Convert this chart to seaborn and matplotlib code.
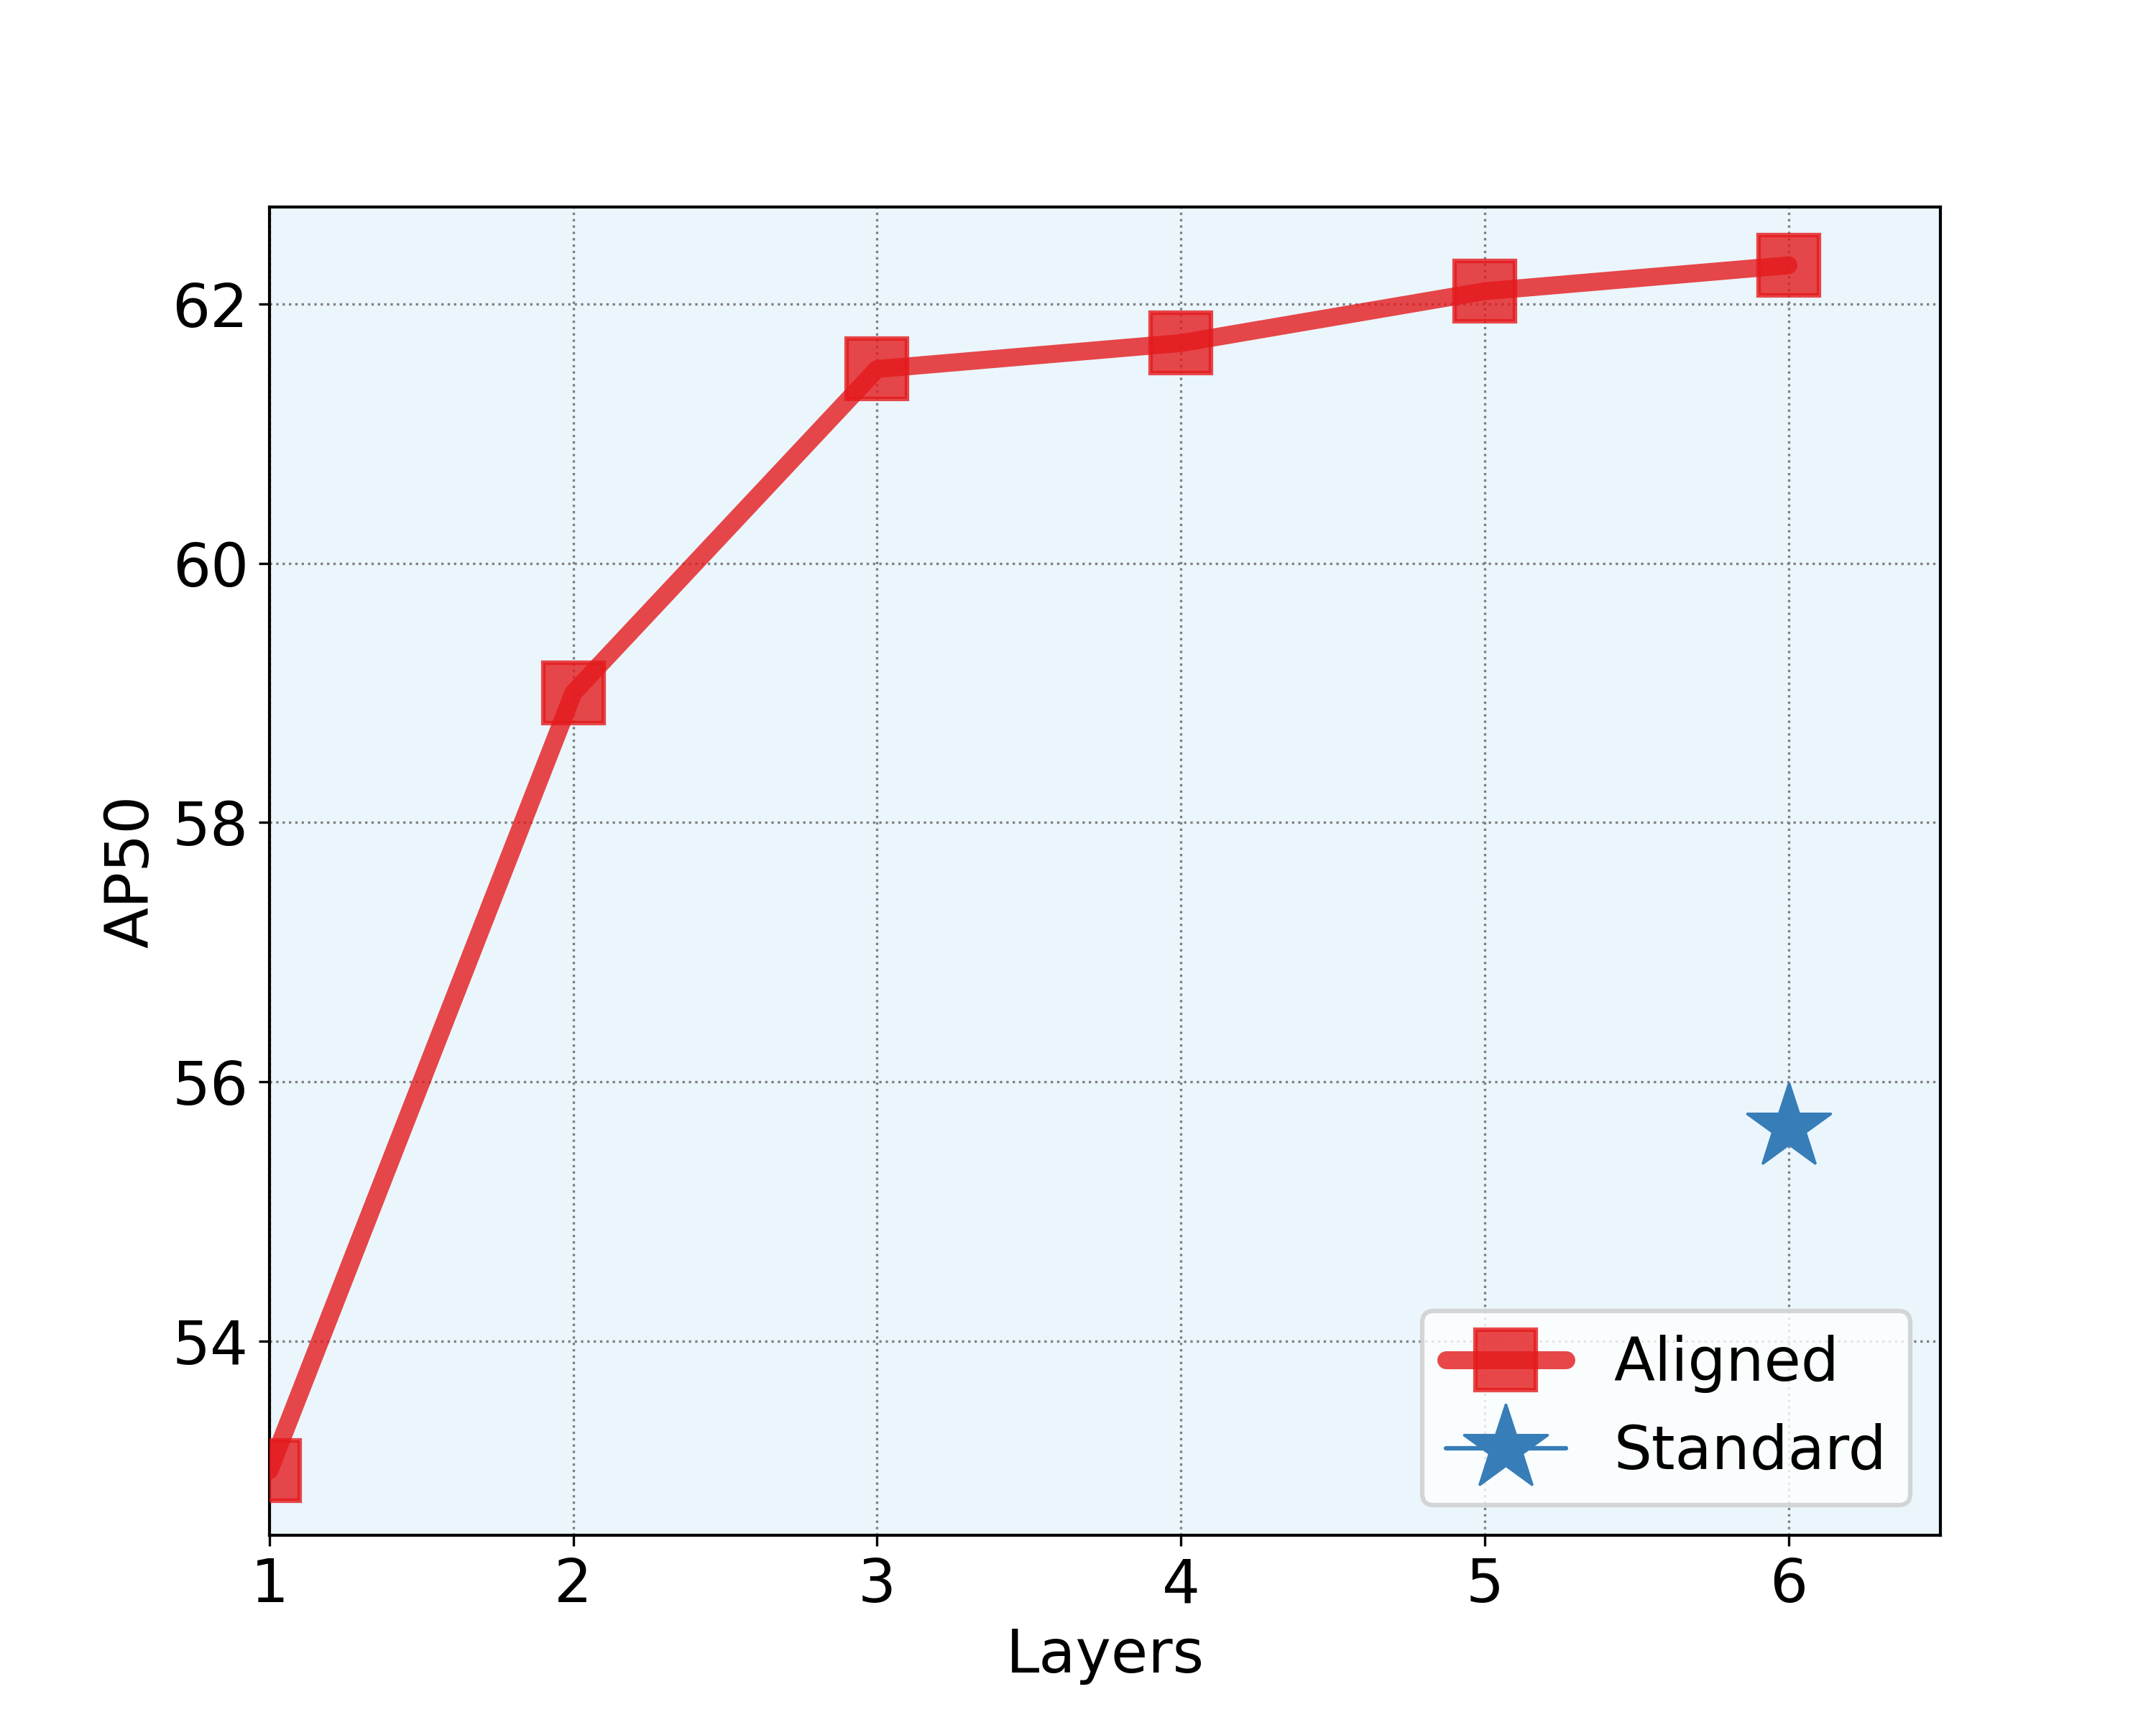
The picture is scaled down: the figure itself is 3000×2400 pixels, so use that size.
import matplotlib
matplotlib.use("Agg")
import matplotlib.pyplot as plt
import seaborn as sns
import pandas as pd

layers = [1, 2, 3, 4, 5, 6]
aligned_ap50 = [53.0, 59.0, 61.5, 61.7, 62.1, 62.3]
standard_layers = [6]
standard_ap50 = [55.65]

sns.set_style("ticks", rc={
    'text.color': 'black', 'axes.labelcolor': 'black',
    'xtick.color': 'black', 'ytick.color': 'black',
    'axes.edgecolor': 'black',
})
plt.rcParams['font.family'] = ['DejaVu Sans']
plt.rcParams['xtick.major.size'] = 3.5
plt.rcParams['ytick.major.size'] = 3.5
plt.rcParams['xtick.major.pad'] = 3.5
plt.rcParams['ytick.major.pad'] = 3.5
plt.rcParams['xtick.major.width'] = 0.8
plt.rcParams['ytick.major.width'] = 0.8

fig, ax = plt.subplots(figsize=(10, 8), dpi=300)
ax.set_facecolor('#EBF6FC')

df_a = pd.DataFrame({"Layers": layers, "AP50": aligned_ap50})
df_s = pd.DataFrame({"Layers": standard_layers, "AP50": standard_ap50})

sns.lineplot(data=df_a, x="Layers", y="AP50", ax=ax, color='#e41a1c', alpha=0.8,
             linewidth=6, marker='s', markersize=20, markeredgecolor='#e41a1c',
             markeredgewidth=1.5, label='Aligned', zorder=3)
sns.lineplot(data=df_s, x="Layers", y="AP50", ax=ax, color='#377eb8',
             linewidth=1.5, marker='*', markersize=30, markeredgecolor='#377eb8',
             label='Standard', zorder=3)

ax.set_xlim(1, 6.5)
ax.set_ylim(52.5, 62.75)
ax.set_xticks([1, 2, 3, 4, 5, 6])
ax.set_yticks([54, 56, 58, 60, 62])
ax.grid(True, linestyle=':', color='gray', linewidth=0.8)
ax.set_axisbelow(True)
ax.tick_params(axis='both', labelsize=20)
for s in ax.spines.values():
    s.set_color('black')
    s.set_linewidth(1.0)
ax.set_xlabel('Layers', fontsize=20)
ax.set_ylabel('AP50', fontsize=20)

leg = ax.legend(loc='lower right', fontsize=20, frameon=True, framealpha=0.8)
leg.get_frame().set_edgecolor('#cccccc')
leg.get_frame().set_linewidth(1.5)

fig.subplots_adjust(left=0.125, right=0.9, bottom=0.11, top=0.88)
fig.savefig('out.png', dpi=300)
